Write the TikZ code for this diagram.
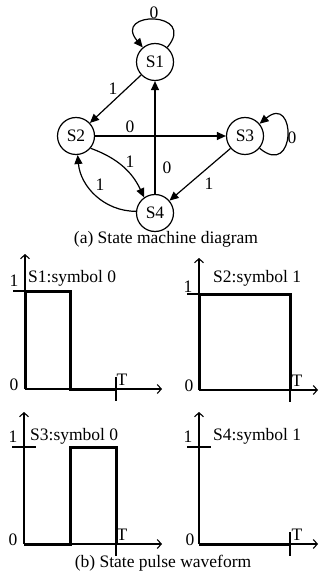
\documentclass[tikz,border=0pt]{standalone}
\usepackage{fontspec}
\setmainfont{Liberation Serif}
\usetikzlibrary{arrows.meta}
\begin{document}
\begin{tikzpicture}[x=1pt,y=-1pt,
  every node/.style={font=\fontsize{17.5}{20}\selectfont, inner sep=0pt},
  state/.style={draw, circle, line width=1.2pt, minimum size=37pt, inner sep=0pt},
  trans/.style={line width=1.2pt, -{Triangle[length=9pt,width=8pt]}},
  axis/.style={line width=1.1pt, -{Straight Barb[length=4pt,width=9pt]}},
  tickline/.style={line width=1.1pt},
  pulse/.style={line width=3pt, line join=miter}]
\useasboundingbox (0,0) rectangle (320,577);
% ---------- state machine ----------
\node[state] (S1) at (155,62) {S1};
\node[state] (S2) at (76,136) {S2};
\node[state] (S3) at (245,136) {S3};
\node[state] (S4) at (155,213) {S4};
\draw[trans] (S1) to[out=50,in=130,distance=48pt] (S1);
\draw[trans] (S3) to[out=-40,in=40,distance=48pt] (S3);
\draw[trans] (S1) -- (S2);
\draw[trans] (S2) -- (S3);
\draw[trans] (S2.-40) to[out=-20,in=115] (S4.125);
\draw[trans] (S4.175) to[out=180,in=-85] (S2.-85);
\draw[trans] (S4) -- (S1);
\draw[trans] (S3) -- (S4);
\node (l11) at (154,13) {0};
\node (l12) at (113,89) {1};
\node (l23) at (130,127) {0};
\node (l24) at (130,162) {1};
\node (l41) at (167,168) {0};
\node (l42) at (100,185) {1};
\node (l34) at (209,184) {1};
\node (l33) at (292,138) {0};
\node (capA) at (166,239) {(a) State machine diagram};
% ---------- plot 1 ----------
\coordinate (O1) at (25,389);
\draw[axis] (O1) -- (25,254);
\draw[axis] (O1) -- (162,389);
\draw[tickline] (13,291) -- (37,291);
\draw[tickline] (116,377) -- (116,401);
\draw[pulse] (25,389) -- (25,291) -- (70,291) -- (70,389) -- (116,389);
\node (p1a) at (14,281) {1};
\node (p1b) at (14,385) {0};
\node (p1c) at (122,380) {T};
\node[anchor=west] (p1t) at (28,278) {S1:symbol 0};
% ---------- plot 2 ----------
\coordinate (O2) at (199,390);
\draw[axis] (O2) -- (199,258);
\draw[axis] (O2) -- (318,390);
\draw[tickline] (187,294) -- (211,294);
\draw[tickline] (290,378) -- (290,402);
\draw[pulse] (199,390) -- (199,294) -- (290,294) -- (290,390);
\node (p2a) at (188,287) {1};
\node (p2b) at (189,386) {0};
\node (p2c) at (297,381) {T};
\node[anchor=west] (p2t) at (213,278) {S2:symbol 1};
% ---------- plot 3 ----------
\coordinate (O3) at (24,544);
\draw[axis] (O3) -- (24,412);
\draw[axis] (O3) -- (162,544);
\draw[tickline] (12,447) -- (36,447);
\draw[tickline] (116,532) -- (116,556);
\draw[pulse] (24,544) -- (70,544) -- (70,447) -- (116,447) -- (116,544);
\node (p3a) at (13,437) {1};
\node (p3b) at (13,540) {0};
\node (p3c) at (122,535) {T};
\node[anchor=west] (p3t) at (30,436) {S3:symbol 0};
% ---------- plot 4 ----------
\coordinate (O4) at (199,544);
\draw[axis] (O4) -- (199,412);
\draw[axis] (O4) -- (318,544);
\draw[tickline] (187,447) -- (211,447);
\draw[tickline] (290,532) -- (290,556);
\draw[pulse] (199,544) -- (290,544);
\node (p4a) at (188,437) {1};
\node (p4b) at (190,540) {0};
\node (p4c) at (297,535) {T};
\node[anchor=west] (p4t) at (213,436) {S4:symbol 1};
\node (capB) at (163,563) {(b) State pulse waveform};
\end{tikzpicture}
\end{document}
